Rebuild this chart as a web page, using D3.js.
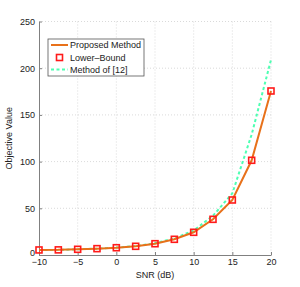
<!DOCTYPE html>
<html lang="en">
<head>
<meta charset="utf-8">
<title></title>
<script src="https://d3js.org/d3.v7.min.js"></script>
<style>
  body { margin: 0; background: #fff; }
  svg { font-family: "Liberation Sans", Arial, sans-serif; }
</style>
</head>
<body>
<svg class="chart"></svg>
<script>
var snr = [-10, -7.5, -5, -2.5, 0, 2.5, 5, 7.5, 10, 12.5, 15, 17.5, 20];
var proposed = [5.4, 5.5, 6.1, 6.8, 7.8, 9.3, 12.1, 16.8, 24.3, 38.2, 58.9, 101.4, 175.6];
var lowerBound = [5.4, 5.5, 6.1, 6.8, 7.8, 9.3, 12.1, 16.8, 24.3, 38.2, 58.9, 101.4, 175.6];
var method12 = [5.4, 5.5, 6.1, 6.8, 7.9, 9.6, 12.6, 17.8, 26.3, 42, 66, 129, 209];
var xTicks = [-10, -5, 0, 5, 10, 15, 20];
var yTicks = [0, 50, 100, 150, 200, 250];
var legendLabels = ["Proposed Method", "Lower\u2013Bound", "Method of [12]"];

var margin = {top: 21.5, right: 29, bottom: 32, left: 39},
    width = 300 - margin.left - margin.right,
    height = 287 - margin.top - margin.bottom;

var x = d3.scaleLinear().domain([-10, 20]).range([0, width]);
var y = d3.scaleLinear().domain([0, 250]).range([height, 0]);

var svg = d3.select(".chart").attr("width", 300).attr("height", 287);
var chart = svg.append("g")
    .attr("transform", "translate(" + margin.left + "," + margin.top + ")");

// grid
chart.selectAll(".vgrid").data(xTicks.slice(1)).enter().append("line")
    .attr("x1", function(d) { return x(d); }).attr("x2", function(d) { return x(d); })
    .attr("y1", 0).attr("y2", height)
    .attr("stroke", "#d0d0d0").attr("stroke-width", 0.8).attr("stroke-dasharray", "1,2");
chart.selectAll(".hgrid").data(yTicks.slice(1)).enter().append("line")
    .attr("x1", 0).attr("x2", width)
    .attr("y1", function(d) { return y(d); }).attr("y2", function(d) { return y(d); })
    .attr("stroke", "#d0d0d0").attr("stroke-width", 0.8).attr("stroke-dasharray", "1,2");

// axes
var xAxis = d3.axisBottom(x).tickValues(xTicks).tickSizeInner(-3).tickSizeOuter(0).tickPadding(4)
    .tickFormat(function(d) { return d < 0 ? "\u2212" + (-d) : d; });
var yAxis = d3.axisLeft(y).tickValues(yTicks).tickSizeInner(-3).tickSizeOuter(0).tickPadding(4);

var gx = chart.append("g").attr("transform", "translate(0," + height + ")").call(xAxis);
var gy = chart.append("g").call(yAxis);
[gx, gy].forEach(function(g) {
  g.select(".domain").attr("stroke", "#808080");
  g.selectAll(".tick line").attr("stroke", "#808080");
  g.selectAll("text").attr("fill", "#222").style("font-size", "9px");
});
// the 0 label sits just above the -10 label, as in the original
gy.selectAll(".tick text").filter(function(d) { return d === 0; }).attr("dy", "0.1em");

chart.append("text")
    .attr("x", x(5)).attr("y", height + 23)
    .attr("text-anchor", "middle").attr("fill", "#222").style("font-size", "9px")
    .text("SNR (dB)");
chart.append("text")
    .attr("transform", "translate(" + (-27) + "," + (height / 2) + ") rotate(-90)")
    .attr("text-anchor", "middle").attr("fill", "#222").style("font-size", "9px")
    .text("Objective Value");

var line = d3.line()
    .x(function(d) { return x(d[0]); })
    .y(function(d) { return y(d[1]); });

chart.append("path")
    .datum(d3.zip(snr, method12))
    .attr("d", line).attr("fill", "none")
    .attr("stroke", "#4dffb2").attr("stroke-width", 2).attr("stroke-dasharray", "3,2.5");

chart.append("path")
    .datum(d3.zip(snr, proposed))
    .attr("d", line).attr("fill", "none")
    .attr("stroke", "#e8711a").attr("stroke-width", 2);

chart.selectAll(".mark").data(d3.zip(snr, lowerBound)).enter().append("rect")
    .attr("x", function(d) { return x(d[0]) - 3; })
    .attr("y", function(d) { return y(d[1]) - 3; })
    .attr("width", 6).attr("height", 6)
    .attr("fill", "none").attr("stroke", "#ff1a1a").attr("stroke-width", 1.6);

// legend
var lg = svg.append("g").attr("transform", "translate(48,39)");
lg.append("rect").attr("width", 96).attr("height", 37)
    .attr("fill", "#fff").attr("stroke", "#555").attr("stroke-width", 0.8);
var rows = [6, 18.5, 30.5];
lg.append("line").attr("x1", 3).attr("x2", 20).attr("y1", rows[0]).attr("y2", rows[0])
    .attr("stroke", "#e8711a").attr("stroke-width", 2);
lg.append("rect").attr("x", 8.5).attr("y", rows[1] - 3).attr("width", 6).attr("height", 6)
    .attr("fill", "none").attr("stroke", "#ff1a1a").attr("stroke-width", 1.6);
lg.append("line").attr("x1", 3).attr("x2", 20).attr("y1", rows[2]).attr("y2", rows[2])
    .attr("stroke", "#4dffb2").attr("stroke-width", 2).attr("stroke-dasharray", "3,2.5");
lg.selectAll(".lab").data(legendLabels).enter().append("text")
    .attr("x", 22).attr("y", function(d, i) { return rows[i]; })
    .attr("dy", "0.35em").attr("fill", "#222").style("font-size", "9px")
    .text(function(d) { return d; });
</script>
</body>
</html>
